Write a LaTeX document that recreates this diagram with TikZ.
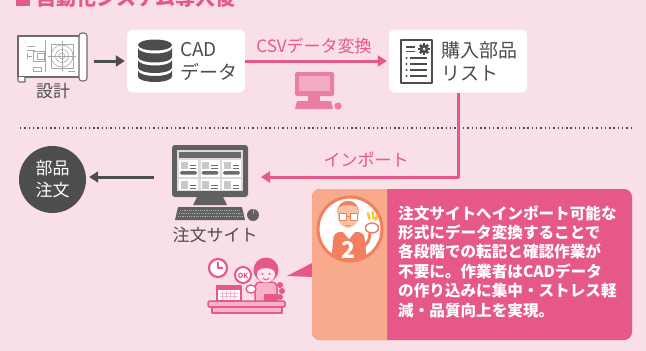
\documentclass[tikz,border=0pt]{standalone}
\usepackage{fontspec}
\setmainfont{Noto Sans CJK JP}
\usetikzlibrary{arrows.meta}
\definecolor{bgpink}{HTML}{F9DFE6}
\definecolor{hotpink}{HTML}{E6578A}
\definecolor{inkgray}{HTML}{4D4D4D}
\definecolor{midgray}{HTML}{6B6B6B}
\definecolor{paleblock}{HTML}{C8C8C8}
\definecolor{screenbg}{HTML}{DADADA}
\definecolor{linegray}{HTML}{A8A8A8}
\definecolor{salmonbg}{HTML}{F7AA8C}
\definecolor{avorange}{HTML}{F2805F}
\definecolor{skin}{HTML}{FAC3A6}
\definecolor{sparkle}{HTML}{F7C53A}
\definecolor{iconpink}{HTML}{EA7EA3}
\definecolor{iconlight}{HTML}{F3AAC3}
\definecolor{lightpink}{HTML}{F5B3C9}
\definecolor{facepink}{HTML}{FDE6EC}
\begin{document}
\begin{tikzpicture}[x=1pt,y=-1pt,line join=round,
  boxtext/.style={text=inkgray,font=\fontsize{19}{22.5}\selectfont,align=left,inner sep=0pt},
  lbl/.style={font=\fontsize{17}{20}\selectfont,inner sep=0pt},
  whitebox/.style={fill=white,rounded corners=6pt,draw=none,inner sep=0pt},
  darrow/.style={draw=inkgray,line width=3pt,-{Triangle[length=9pt,width=11pt]}},
  parrow/.style={draw=hotpink,line width=3pt,-{Triangle[length=9pt,width=11pt]}},
  icon/.style={inner sep=0pt,draw=none}]
\useasboundingbox (0,0) rectangle (646,351);
\fill[bgpink] (0,0) rectangle (646,351);

% heading (runs off the top edge)
\fill[hotpink] (16,-9) rectangle (30,6);
\node[anchor=base west,inner sep=0pt,text=hotpink,font=\bfseries\fontsize{20}{20}\selectfont] (title) at (36,5) {自動化システム導入後};

% ---------- design drawing (scroll) ----------
\node[icon,minimum width=70pt,minimum height=50pt] (design) at (53,58) {};
\draw[midgray,line width=1.1pt,fill=white] (18,36) rectangle (81,77);
\draw[midgray,line width=1.1pt,fill=white] (18,77) -- (18,80) .. controls (18,82) .. (22,82) -- (25,82) -- (25,77);
\draw[midgray,line width=1.1pt,fill=white,rounded corners=3pt] (79,33) rectangle (87,81);
\begin{scope}[linegray,line width=0.6pt]
  \draw (62,56) circle[radius=11] (62,56) circle[radius=6.5] (62,56) circle[radius=3];
  \draw (51,44) rectangle (73,68);
  \draw (48,56) -- (76,56) (62,41) -- (62,71);
  \draw (45,40) -- (45,72) (27,46) -- (35,46) (27,50) -- (35,50);
  \draw (33,51) rectangle (44,61) (37,53) rectangle (44,59);
  \draw (27,53) -- (27,59) (27,56) -- (32,56);
  \draw (33,67) rectangle (41,71);
  \draw (68,71) -- (75,71);
\end{scope}
\node[lbl,text=inkgray] (designlbl) at (53,91) {設計};

% ---------- CAD data box ----------
\node[whitebox,minimum width=118pt,minimum height=63pt] (cad) at (186,61) {};
\begin{scope}[inkgray]
  \fill (155,45) ellipse[x radius=17,y radius=5.5];
  \foreach \t/\b in {48/57,60/67.5,70.5/76.5}{
    \fill (138,\t) -- (138,\b) arc[start angle=180,end angle=0,x radius=17,y radius=5.5]
      -- (172,\t) arc[start angle=0,end angle=180,x radius=17,y radius=5.5] -- cycle;
  }
\end{scope}
\node[boxtext,anchor=west] (cadtext) at (180,61.5) {CAD\\データ};

% ---------- purchase list box ----------
\node[whitebox,minimum width=138pt,minimum height=63pt] (list) at (458,61) {};
\draw[inkgray,line width=2.2pt,fill=white] (401,40) rectangle (432,83);
\begin{scope}[inkgray]
  \foreach \a in {0,45,...,315}
    \fill[rotate around={\a:(424,49)}] (422.7,43.2) rectangle (425.3,46);
  \fill (424,49) circle[radius=4.3];
  \fill[white] (424,49) circle[radius=1.5];
  \draw[line width=1.8pt] (406,47) -- (415,47) (406,51.5) -- (415,51.5);
  \foreach \y in {58,64,70,76}{
    \fill (406.5,\y) circle[radius=1.1];
    \draw[line width=1.8pt] (410,\y) -- (427,\y);
  }
\end{scope}
\node[boxtext,anchor=west] (listtext) at (441,61.5) {購入部品\\リスト};

% ---------- connectors, top row ----------
\draw[darrow,shorten <=6pt,shorten >=2pt] (design.east |- cad.west) -- (cad.west);
\draw[parrow,shorten >=2pt] (cad.east) -- (list.west);
\node[lbl,text=hotpink] (csvlbl) at (314,46) {CSVデータ変換};

% small pink PC
\fill[iconpink,rounded corners=1.5pt] (295,72) rectangle (334,96);
\fill[iconlight] (299,75.5) rectangle (330,91);
\fill[iconpink] (308,96) rectangle (320,101);
\fill[iconpink] (297,101) -- (331,101) -- (333,109) -- (295,109) -- cycle;
\fill[iconpink] (338,106) circle[radius=3.6];

% separator
\draw[inkgray,line width=1.6pt,dash pattern=on 1.4pt off 2.9pt] (20,128) -- (632,128);

% ---------- order site ----------
\node[icon,minimum width=76pt,minimum height=52pt] (site) at (210,171) {};
\coordinate (siteIn) at (261,177);
\coordinate (siteOut) at (154,177);
\fill[midgray!90!black,rounded corners=3pt] (172,145) rectangle (248,197);
\fill[screenbg] (177,150) rectangle (243,191);
\fill[midgray] (179,152) rectangle (241,157.5);
\foreach \x in {179,200.5,222}{
  \fill[white] (\x,160) rectangle (\x+19,176.5);
  \fill[white] (\x,179) rectangle (\x+19,190);
  \fill[paleblock] (\x+1.5,161.5) rectangle (\x+8.5,169);
  \fill[paleblock] (\x+1.5,180.5) rectangle (\x+8.5,189);
  \draw[midgray,line width=0.9pt] (\x+10.5,165) -- (\x+17,165) (\x+10.5,168) -- (\x+17,168)
        (\x+10.5,185) -- (\x+17,185) (\x+10.5,188) -- (\x+17,188);
  \fill[midgray,rounded corners=1.5pt] (\x+1,171) rectangle (\x+18,174.5);
}
\fill[midgray!90!black] (197,197) -- (223,197) -- (227,205) -- (193,205) -- cycle;
\fill[midgray!90!black] (178,207) -- (242,207) -- (245,220) -- (175,220) -- cycle;
\draw[linegray,line width=0.7pt,dash pattern=on 1.2pt off 1pt] (180,210.5) -- (240,210.5) (179,213.5) -- (241,213.5) (178,216.5) -- (242,216.5);
\fill[midgray!90!black] (253,215) circle[radius=6];
\draw[linegray,line width=0.7pt] (253,209) -- (253,214);
\node[lbl,text=inkgray] (sitelbl) at (215,235) {注文サイト};

% ---------- parts order ----------
\node[circle,fill=inkgray,minimum size=67pt,inner sep=0pt,text=white,align=center,
      font=\fontsize{17}{22}\selectfont] (order) at (52.5,179.5) {部品\\注文};

\draw[parrow] (list.south) |- (siteIn);
\node[lbl,text=hotpink] (importlbl) at (366,160) {インポート};
\draw[darrow,shorten >=3pt] (siteOut) -- (order.east |- siteOut);

% ---------- note panel ----------
\fill[hotpink] (287,276) -- (314,262) -- (314,277) -- cycle;
\fill[hotpink,rounded corners=8pt] (312,189) rectangle (632,340);
\begin{scope}
  \clip (300,180) rectangle (387,350);
  \fill[salmonbg,rounded corners=8pt] (312,189) rectangle (632,340);
\end{scope}
\node[anchor=west,inner sep=0pt,text=white,align=left,
      font=\bfseries\fontsize{15.6}{19.4}\selectfont] (note) at (398,261.5)
  {注文サイトへインポート可能な\\形式にデータ変換することで\\各段階での転記と確認作業が\\不要に。作業者はCADデータ\\の作り込みに集中・ストレス軽\\減・品質向上を実現。};

% worker badge
\coordinate (av) at (350,229);
\fill[white] (av) circle[radius=32];
\begin{scope}
  \clip (av) circle[radius=32];
  \fill[avorange,rounded corners=6pt] (334,232) -- (364,232) -- (368,272) -- (330,272) -- cycle;
  \fill[white] (343,232) -- (349,239) -- (355,232) -- cycle;
  \node[text=white,inner sep=0pt,font=\bfseries\fontsize{23}{23}\selectfont] (badgenum) at (348.5,250) {2};
  \fill[skin] (348,215) ellipse[x radius=10.5,y radius=13];
  \fill[avorange] (337.5,214) .. controls (335,197) and (361,196) .. (358.5,214) -- (357,207) .. controls (351,204) and (344,204) .. (339,207.5) -- cycle;
  \draw[avorange,line width=1pt,fill=white] (339,213.5) rectangle (346.5,220) (350,213.5) rectangle (357.5,220);
  \draw[avorange,line width=1pt] (346.5,216) -- (350,216);
  \draw[avorange,line width=1pt] (345,225) -- (351,225);
  \draw[avorange,line width=3pt,line cap=round] (364,246) .. controls (369,241) .. (370,233);
  \draw[avorange,line width=1.5pt,fill=white] (372,228) ellipse[x radius=6.5,y radius=5];
\end{scope}
\draw[avorange,line width=3pt] (av) circle[radius=32];
\draw[sparkle,line width=2.4pt,line cap=round] (368,213) -- (369.5,219) (372.5,212) -- (373.5,218.5) (377,215) -- (375.5,220);

% ---------- worker at desk ----------
\draw[hotpink,line width=2.2pt,fill=white] (218,268) circle[radius=9];
\draw[hotpink,line width=1.8pt] (218,262) -- (218,268) -- (223,268);
\draw[hotpink,line width=2pt,fill=white] (243,275) circle[radius=8];
\node[text=hotpink,inner sep=0pt,font=\bfseries\fontsize{7}{7}\selectfont] (okmark) at (243,275.5) {OK};
\draw[hotpink,line width=1.5pt,fill=white] (217,286) rectangle (241,300.5);
\fill[hotpink] (217,286) rectangle (241,290);
\draw[lightpink,line width=0.8pt] (220,293) -- (238,293) (220,296) -- (238,296)
  (222,291) -- (222,299) (226,291) -- (226,299) (230,291) -- (230,299) (234,291) -- (234,299);
\fill[hotpink] (280,285) circle[radius=3] (282,291) circle[radius=3] (280,297) circle[radius=3];
\draw[hotpink,line width=1.5pt,fill=lightpink] (255,301) -- (255,289) .. controls (256,282) .. (266,282) .. controls (276,282) .. (277,289) -- (277,301);
\fill[hotpink] (266,270) circle[radius=12.5];
\fill[facepink] (266,274.5) ellipse[x radius=9,y radius=8];
\fill[hotpink] (257,271) .. controls (260,262) and (272,262) .. (275,271) .. controls (270,267) and (262,267) .. cycle;
\fill[hotpink] (262.5,274) circle[radius=1.1] (269.5,274) circle[radius=1.1];
\draw[hotpink,line width=1pt] (263,278) .. controls (265,280.5) and (267,280.5) .. (269,278);
\draw[hotpink,line width=1.3pt,fill=white] (251,289) ellipse[x radius=5,y radius=4];
\fill[hotpink] (264,294) rectangle (278,301);
\draw[hotpink,line width=1.5pt,fill=lightpink,rounded corners=1.5pt] (208,301) rectangle (285,307);
\draw[hotpink,line width=1.5pt,fill=lightpink] (212,307) rectangle (282,313);
\end{tikzpicture}
\end{document}
